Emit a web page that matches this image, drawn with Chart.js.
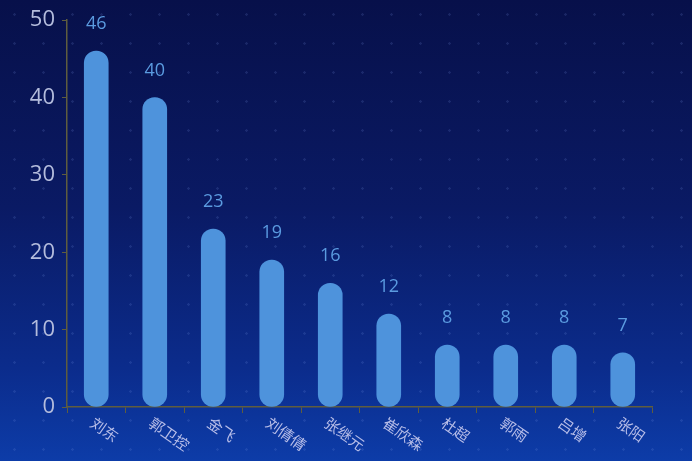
<!DOCTYPE html>
<html>
<head>
<meta charset="utf-8">
<script src="https://cdn.jsdelivr.net/npm/chart.js@4"></script>
<style>
html,body{margin:0;padding:0;}
body{width:692px;height:461px;overflow:hidden;
background:
 radial-gradient(circle, rgba(120,150,230,0.16) 1px, transparent 1.5px) 0 0/29px 29px,
 linear-gradient(180deg,#07104a 0%,#0a1a64 45%,#0b2c8c 80%,#0d3ca8 100%);}
#wrap{position:relative;width:692px;height:461px;}
</style>
</head>
<body>
<div id="wrap"><canvas id="c" width="692" height="461"></canvas></div>
<script>
const categories = ['刘东','郭卫控','金飞','刘倩倩','张继元','崔欣森','杜超','郭雨','吕增','张阳'];
const values = [46,40,23,19,16,12,8,8,8,7];
const yTicks = [0,10,20,30,40,50];

const barColor = '#4e93dc';
const axisColor = '#5f5d3e';

const valueLabels = {
  id:'valueLabels',
  afterDatasetsDraw(chart){
    const ctx = chart.ctx;
    const meta = chart.getDatasetMeta(0);
    ctx.save();
    ctx.font = '18px "Open Sans", "Noto Sans", sans-serif';
    ctx.fillStyle = '#5b9be0';
    ctx.textAlign = 'center';
    ctx.textBaseline = 'middle';
    meta.data.forEach((bar,i)=>{
      ctx.fillText(String(values[i]), bar.x, bar.y - 27);
    });
    ctx.restore();
  }
};

const rotatedLabels = {
  id:'rotatedLabels',
  afterDraw(chart){
    const ctx = chart.ctx;
    const xs = chart.scales.x;
    ctx.save();
    ctx.font = '15px "Noto Sans CJK SC", sans-serif';
    ctx.fillStyle = '#b7bde8';
    ctx.textAlign = 'left';
    ctx.textBaseline = 'middle';
    categories.forEach((c,i)=>{
      const x = xs.getPixelForTick(i);
      ctx.save();
      ctx.translate(x - 4, xs.top + 14);
      ctx.rotate(35*Math.PI/180);
      ctx.fillText(c, 0, 0);
      ctx.restore();
    });
    ctx.restore();
  }
};

new Chart(document.getElementById('c'), {
  type:'bar',
  data:{
    labels: categories,
    datasets:[{
      data: values,
      backgroundColor: barColor,
      borderRadius: 12,
      borderSkipped: false,
      barThickness: 24
    }]
  },
  options:{
    responsive:false,
    animation:false,
    devicePixelRatio:1,
    layout:{padding:{left:0,right:40,top:16,bottom:0}},
    plugins:{legend:{display:false},tooltip:{enabled:false}},
    scales:{
      x:{
        offset:true,
        grid:{display:true,drawOnChartArea:false,drawTicks:true,tickLength:6,color:axisColor,offset:true},
        border:{color:axisColor,width:1.5},
        ticks:{callback:()=> '',font:{size:14}},
        afterFit(s){ s.height = 54; }
      },
      y:{
        min:0,max:50,
        afterBuildTicks(s){ s.ticks = yTicks.map(v=>({value:v})); },
        grid:{display:true,drawOnChartArea:false,drawTicks:true,tickLength:5,color:axisColor},
        border:{color:axisColor,width:1.5},
        ticks:{color:'#b4bcdc',font:{size:22,family:'"Open Sans", "Noto Sans", sans-serif'},padding:7},
        afterFit(s){ s.width = 67; }
      }
    }
  },
  plugins:[valueLabels, rotatedLabels]
});
</script>
</body>
</html>
